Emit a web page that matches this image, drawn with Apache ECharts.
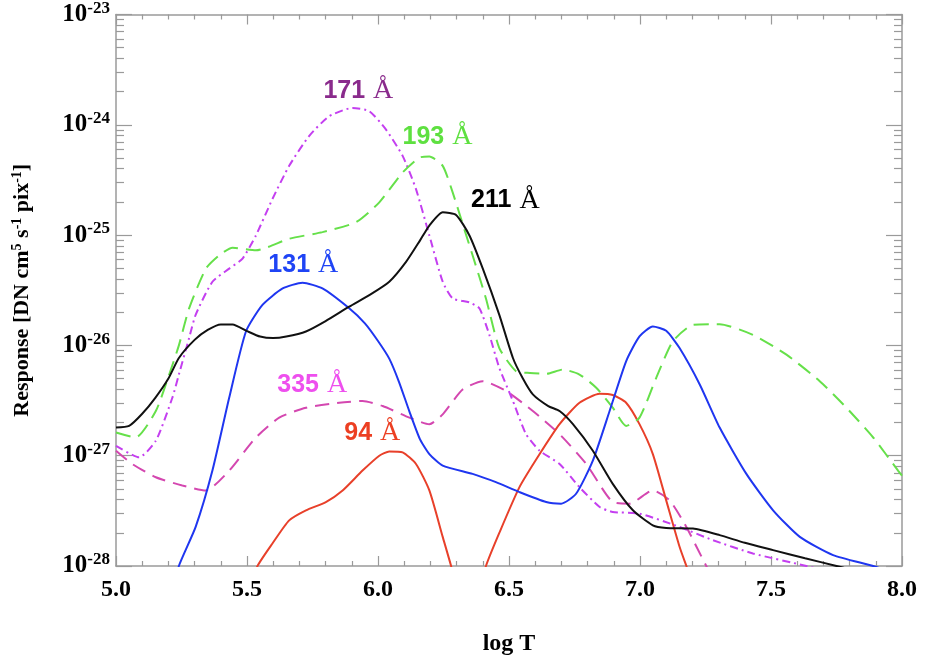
<!DOCTYPE html>
<html><head><meta charset="utf-8">
<script src="https://cdn.jsdelivr.net/npm/echarts@6/dist/echarts.min.js"></script>
<style>html,body{margin:0;padding:0;background:#fff}#c{width:925px;height:662px}</style>
</head><body><div id="c"></div>
<script>
// log T values and log10(response [DN cm^5 s^-1 pix^-1])
const t211 = [5.0,5.05,5.1,5.15,5.2,5.24,5.3,5.35,5.4,5.445,5.5,5.55,5.6,5.65,5.725,5.8,5.89,5.97,6.043,6.107,6.16,6.196,6.247,6.298,6.349,6.4,6.463,6.515,6.553,6.591,6.65,6.693,6.744,6.82,6.896,6.973,7.049,7.1,7.202,7.304,7.4,7.508,7.63,7.75,7.8];
const e211 = [-26.745,-26.73,-26.62,-26.475,-26.3,-26.114,-25.95,-25.86,-25.81,-25.81,-25.87,-25.92,-25.934,-25.92,-25.874,-25.78,-25.649,-25.54,-25.423,-25.243,-25.05,-24.913,-24.793,-24.817,-25.003,-25.304,-25.723,-26.114,-26.3,-26.444,-26.55,-26.595,-26.714,-26.955,-27.255,-27.495,-27.631,-27.655,-27.66,-27.72,-27.79,-27.856,-27.93,-28.0,-28.03];

const t131 = [5.2,5.24,5.304,5.368,5.432,5.496,5.559,5.636,5.712,5.788,5.89,5.95,6.0,6.043,6.08,6.12,6.16,6.196,6.247,6.361,6.45,6.54,6.642,6.699,6.756,6.82,6.884,6.947,6.998,7.049,7.1,7.151,7.228,7.304,7.406,7.508,7.61,7.737,7.89,7.95];
const e131 = [-28.35,-28.0,-27.646,-27.135,-26.475,-25.874,-25.633,-25.484,-25.432,-25.484,-25.664,-25.80,-25.96,-26.12,-26.33,-26.6,-26.85,-26.985,-27.09,-27.165,-27.24,-27.33,-27.42,-27.435,-27.345,-27.045,-26.595,-26.144,-25.919,-25.829,-25.868,-26.024,-26.354,-26.745,-27.165,-27.495,-27.736,-27.901,-28.0,-28.05];

const t193 = [5.0,5.075,5.152,5.203,5.24,5.279,5.343,5.394,5.445,5.534,5.661,5.788,5.916,6.005,6.094,6.158,6.196,6.247,6.285,6.33,6.361,6.412,6.463,6.527,6.58,6.642,6.705,6.769,6.833,6.896,6.947,6.998,7.062,7.125,7.202,7.304,7.431,7.559,7.686,7.788,7.89,7.985,8.0];
const e193 = [-26.79,-26.835,-26.595,-26.264,-26.0,-25.664,-25.304,-25.183,-25.114,-25.138,-25.033,-24.973,-24.883,-24.703,-24.432,-24.297,-24.288,-24.372,-24.613,-24.95,-25.183,-25.574,-26.024,-26.234,-26.25,-26.258,-26.219,-26.264,-26.384,-26.565,-26.73,-26.655,-26.294,-25.964,-25.814,-25.808,-25.904,-26.084,-26.324,-26.565,-26.835,-27.135,-27.18];

const t171 = [5.0,5.088,5.152,5.215,5.24,5.279,5.304,5.368,5.432,5.483,5.534,5.597,5.661,5.737,5.814,5.903,5.967,6.03,6.094,6.145,6.196,6.247,6.285,6.349,6.387,6.425,6.463,6.515,6.565,6.617,6.693,6.769,6.846,6.896,6.998,7.151,7.278,7.431,7.635,7.7];
const e171 = [-26.91,-27.015,-26.865,-26.475,-26.264,-25.934,-25.723,-25.423,-25.304,-25.213,-25.003,-24.673,-24.372,-24.102,-23.922,-23.847,-23.877,-24.042,-24.282,-24.583,-25.003,-25.423,-25.574,-25.61,-25.664,-25.904,-26.204,-26.504,-26.805,-26.955,-27.075,-27.285,-27.465,-27.51,-27.525,-27.646,-27.766,-27.886,-28.0,-28.04];

const t335 = [5.0,5.062,5.152,5.253,5.343,5.432,5.534,5.623,5.725,5.852,5.941,6.018,6.12,6.196,6.247,6.323,6.4,6.489,6.591,6.693,6.795,6.896,6.96,7.049,7.113,7.177,7.253,7.28];
const e335 = [-26.955,-27.075,-27.195,-27.27,-27.315,-27.135,-26.835,-26.655,-26.565,-26.52,-26.504,-26.55,-26.655,-26.715,-26.625,-26.4,-26.324,-26.414,-26.595,-26.805,-27.075,-27.42,-27.435,-27.315,-27.405,-27.646,-28.0,-28.1];

const t94 = [5.52,5.54,5.597,5.661,5.725,5.801,5.865,5.941,6.005,6.043,6.094,6.145,6.196,6.247,6.279,6.3,6.39,6.412,6.463,6.54,6.617,6.693,6.769,6.846,6.896,6.947,6.998,7.049,7.1,7.151,7.177,7.2];
const e94 = [-28.15,-28.0,-27.796,-27.586,-27.495,-27.42,-27.315,-27.135,-27.0,-26.961,-26.97,-27.075,-27.315,-27.736,-28.0,-28.2,-28.2,-28.0,-27.7,-27.285,-26.985,-26.714,-26.52,-26.439,-26.45,-26.52,-26.714,-26.985,-27.405,-27.826,-28.0,-28.15];

// channel names and label anchors (log T, log10 response)
const channels = ['171', '193', '211', '131', '335', '94'];
const labelT = [5.925, 6.227, 6.486, 5.715, 5.749, 5.978];
const labelE = [-23.694, -24.108, -24.685, -25.27, -26.36, -26.793];

// axis decades (exponents of 10)
const yDecades = [-28, -27, -26, -25, -24, -23];

const serif = '"Liberation Serif","Times New Roman",serif';
const sans = '"Liberation Sans",Arial,Helvetica,sans-serif';
const mk = (t, e) => t.map((x, i) => [x, e[i]]);

const minorY = [];
for (let k = -28; k < -23; k++) for (let m = 2; m <= 9; m++) minorY.push(k + Math.log10(m));

const colors = {
  '211': '#111111', '131': '#1f36f0', '193': '#66e04a',
  '171': '#c43ff0', '335': '#d447b0', '94': '#e8402a'
};
const labelColors = {
  '171': '#8a2b8c', '193': '#5ee040', '211': '#000000',
  '131': '#1f44f5', '335': '#ee4fee', '94': '#ec3f22'
};

function lineSeries(name, data, color, type, z) {
  return {
    name, type: 'line', data, showSymbol: false, symbol: 'none', smooth: 0.2, clip: true, z: z || 2,
    lineStyle: { color, width: 2, type }
  };
}

const axisGrey = '#9a9a9a';
const yAxisBase = (pos, ticks, len, showLine, showLabel) => ({
  type: 'value', min: -28, max: -23, interval: 1, position: pos,
  axisLine: { show: showLine, lineStyle: { color: axisGrey, width: 1.5 } },
  axisTick: { show: true, inside: true, length: len, customValues: ticks, lineStyle: { color: axisGrey, width: 1.2 } },
  minorTick: { show: false },
  splitLine: { show: false },
  axisLabel: showLabel ? {
    show: true, margin: 6,
    formatter: v => '{b|10}{s|' + Math.round(v) + '}',
    rich: {
      b: { fontFamily: serif, fontWeight: 'bold', fontSize: 25, color: '#000', lineHeight: 28 },
      s: { fontFamily: serif, fontWeight: 'bold', fontSize: 17, color: '#000', verticalAlign: 'top', padding: [0, 0, 12, 0] }
    }
  } : { show: false }
});

const series = [
  lineSeries('335', mk(t335, e335), colors['335'], [14, 8], 2),
  lineSeries('94', mk(t94, e94), colors['94'], 'solid', 2),
  lineSeries('171', mk(t171, e171), colors['171'], [8, 4, 2, 4], 3),
  lineSeries('193', mk(t193, e193), colors['193'], [15, 8], 3),
  lineSeries('131', mk(t131, e131), colors['131'], 'solid', 4),
  lineSeries('211', mk(t211, e211), colors['211'], 'solid', 5)
];

channels.forEach((ch, i) => {
  series.push({
    type: 'scatter', symbolSize: 0, silent: true, z: 10,
    itemStyle: { opacity: 1 },
    data: [[labelT[i], labelE[i]]],
    label: {
      show: true, position: 'inside', opacity: 1,
      formatter: '{n|' + ch + '}{a|Å}',
      rich: {
        n: { fontFamily: sans, fontWeight: 'bold', fontSize: 25, color: labelColors[ch] },
        a: { fontFamily: serif, fontWeight: 'normal', fontSize: 28, color: labelColors[ch], padding: [0, 0, 0, 8] }
      }
    }
  });
});

const chart = echarts.init(document.getElementById('c'), null, { renderer: 'canvas' });
chart.setOption({
  backgroundColor: '#ffffff',
  animation: false,
  grid: { left: 116, right: 23, top: 11, bottom: 96, containLabel: false },
  xAxis: [
    {
      type: 'value', min: 5, max: 8, interval: 0.5, position: 'bottom',
      name: 'log T', nameLocation: 'middle', nameGap: 66,
      nameTextStyle: { fontFamily: serif, fontWeight: 'bold', fontSize: 24, color: '#000' },
      axisLine: { show: true, lineStyle: { color: axisGrey, width: 1.5 } },
      axisTick: { show: true, inside: true, length: 10, lineStyle: { color: axisGrey, width: 1.2 } },
      minorTick: { show: true, splitNumber: 5, length: 5, lineStyle: { color: axisGrey, width: 1.2 } },
      splitLine: { show: false },
      axisLabel: {
        show: true, margin: 12, formatter: v => v.toFixed(1),
        fontFamily: serif, fontWeight: 'bold', fontSize: 24, color: '#000'
      }
    },
    {
      type: 'value', min: 5, max: 8, interval: 0.5, position: 'top',
      axisLine: { show: true, onZero: false, lineStyle: { color: axisGrey, width: 1.5 } },
      axisTick: { show: true, inside: true, length: 10, lineStyle: { color: axisGrey, width: 1.2 } },
      minorTick: { show: true, splitNumber: 5, length: 5, lineStyle: { color: axisGrey, width: 1.2 } },
      splitLine: { show: false }, axisLabel: { show: false }
    }
  ],
  yAxis: [
    Object.assign(yAxisBase('left', yDecades, 16, true, true), {
      name: 'Response [DN cm{s|5} s{s|-1} pix{s|-1}]',
      nameLocation: 'middle', nameGap: 82, nameRotate: 90,
      nameTextStyle: {
        fontFamily: serif, fontWeight: 'bold', fontSize: 22, color: '#000',
        rich: { s: { fontFamily: serif, fontWeight: 'bold', fontSize: 14, color: '#000', verticalAlign: 'top', padding: [0, 0, 10, 0] } }
      }
    }),
    yAxisBase('left', minorY, 8, false, false),
    yAxisBase('right', yDecades, 16, true, false),
    yAxisBase('right', minorY, 8, false, false)
  ],
  series
});
</script></body></html>
